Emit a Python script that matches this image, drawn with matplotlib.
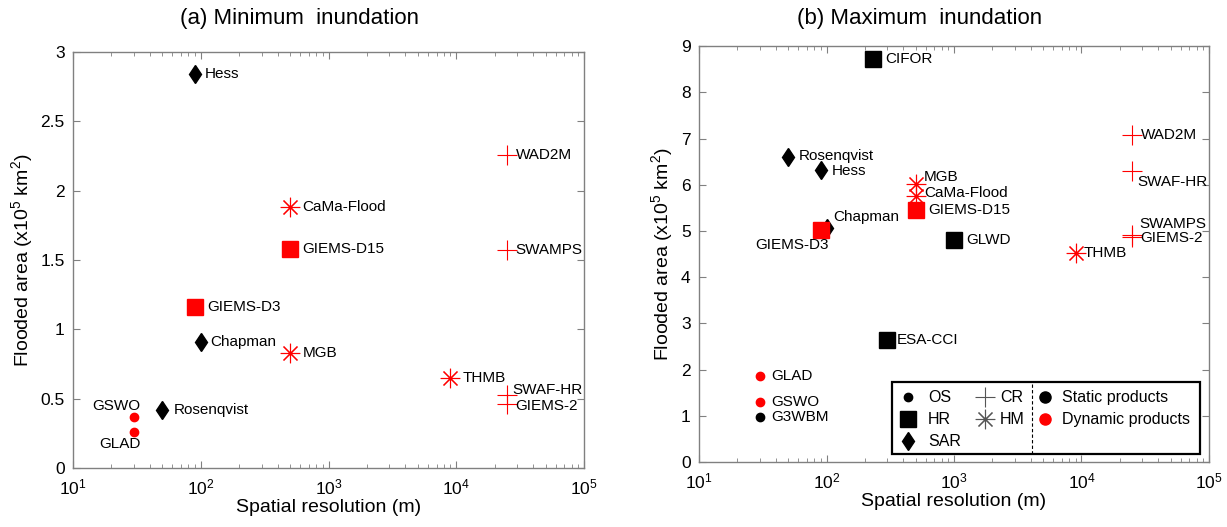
import matplotlib
matplotlib.use("Agg")
import matplotlib.pyplot as plt
from matplotlib.patches import Rectangle
from matplotlib.ticker import FormatStrFormatter, LogLocator, NullFormatter

plt.rcParams['font.family'] = ['Liberation Sans', 'DejaVu Sans']
plt.rcParams['mathtext.fontset'] = 'custom'
plt.rcParams['mathtext.rm'] = 'Liberation Sans'
plt.rcParams['mathtext.it'] = 'Liberation Sans'

# product type (sensor / model family) and whether it is dynamic
ptype = {
    'Hess': 'SAR', 'Chapman': 'SAR', 'Rosenqvist': 'SAR',
    'WAD2M': 'CR', 'SWAMPS': 'CR', 'SWAF-HR': 'CR', 'GIEMS-2': 'CR',
    'CaMa-Flood': 'HM', 'MGB': 'HM', 'THMB': 'HM',
    'GIEMS-D15': 'HR', 'GIEMS-D3': 'HR', 'CIFOR': 'HR', 'GLWD': 'HR', 'ESA-CCI': 'HR',
    'GSWO': 'OS', 'GLAD': 'OS', 'G3WBM': 'OS',
}
dynamic = ['WAD2M', 'SWAMPS', 'SWAF-HR', 'GIEMS-2', 'CaMa-Flood', 'MGB', 'THMB',
           'GIEMS-D15', 'GIEMS-D3', 'GSWO', 'GLAD']

# (a) minimum inundation
min_names = ['Hess', 'WAD2M', 'CaMa-Flood', 'GIEMS-D15', 'SWAMPS', 'GIEMS-D3', 'Chapman',
             'MGB', 'THMB', 'SWAF-HR', 'GIEMS-2', 'Rosenqvist', 'GSWO', 'GLAD']
min_res = [90, 25000, 500, 500, 25000, 90, 100, 500, 9000, 25000, 25000, 50, 30, 30]
min_area = [2.84, 2.26, 1.88, 1.58, 1.57, 1.16, 0.91, 0.83, 0.65, 0.53, 0.46, 0.42, 0.37, 0.26]

# (b) maximum inundation
max_names = ['CIFOR', 'WAD2M', 'Rosenqvist', 'Hess', 'SWAF-HR', 'MGB', 'CaMa-Flood',
             'GIEMS-D15', 'Chapman', 'GIEMS-D3', 'SWAMPS', 'GIEMS-2', 'GLWD', 'THMB',
             'ESA-CCI', 'GLAD', 'GSWO', 'G3WBM']
max_res = [230, 25000, 50, 90, 25000, 500, 500, 500, 100, 90, 25000, 25000, 1000, 9000,
           300, 30, 30, 30]
max_area = [8.72, 7.08, 6.60, 6.33, 6.30, 6.02, 5.76, 5.45, 5.07, 5.02, 4.92, 4.87, 4.80,
            4.52, 2.65, 1.87, 1.30, 0.98]

# marker styles
mstyle = {
    'OS': dict(marker='o', ms=6),
    'HR': dict(marker='s', ms=11),
    'SAR': dict(marker='d', ms=9.5),
    'CR': dict(marker='+', ms=15, mew=0.8),
    'HM': dict(marker=(8, 2, 0), ms=14, mew=0.8),
}

# label offsets in points (dx, dy, ha)
lab_a = {'GSWO': (-13, 8, 'center'), 'GLAD': (-10, -9, 'center'),
         'SWAF-HR': (4, 3, 'left'), 'GIEMS-2': (6, -1, 'left'),
         'WAD2M': (6, 0, 'left'), 'SWAMPS': (6, 0, 'left'),
         'Hess': (7, 0, 'left'), 'Chapman': (7, 0, 'left'), 'Rosenqvist': (8, 0, 'left')}
lab_b = {'SWAF-HR': (4, -8, 'left'), 'SWAMPS': (5, 8, 'left'), 'GIEMS-2': (6, -1, 'left'),
         'MGB': (6, 5, 'left'), 'CaMa-Flood': (6, 2, 'left'), 'Chapman': (5, 8, 'left'),
         'GIEMS-D3': (6, -11, 'right'), 'WAD2M': (6, 0, 'left'), 'THMB': (6, 0, 'left'),
         'Rosenqvist': (8, 1, 'left'), 'Hess': (8, -1, 'left'),
         'ESA-CCI': (7, 0, 'left'), 'GLAD': (8, 0, 'left'), 'GSWO': (8, 0, 'left'),
         'G3WBM': (8, 0, 'left')}

spine_col = '#808080'

fig = plt.figure(figsize=(12.27, 5.27), dpi=100)
ax1 = fig.add_axes([0.0595, 0.112, 0.4165, 0.789])
ax2 = fig.add_axes([0.5697, 0.1233, 0.4156, 0.789])


def draw(ax, names, xs, ys, offs, ymax, ystep):
    for n, x, y in zip(names, xs, ys):
        col = '#ff0000' if n in dynamic else 'black'
        st = mstyle[ptype[n]]
        ax.plot([x], [y], linestyle='none', color=col, mec=col, mfc=col, **st)
        dx, dy, ha = offs.get(n, (9, 0, 'left'))
        ax.annotate(n, (x, y), xytext=(dx, dy), textcoords='offset points',
                    ha=ha, va='center', fontsize=11)
    ax.set_xscale('log')
    ax.set_xlim(10, 1e5)
    ax.set_ylim(0, ymax)
    ax.set_yticks([i * ystep for i in range(int(ymax / ystep) + 1)])
    ax.yaxis.set_major_formatter(FormatStrFormatter('%g'))
    ax.xaxis.set_major_locator(LogLocator(base=10, numticks=10))
    ax.xaxis.set_minor_locator(LogLocator(base=10, subs=range(2, 10), numticks=10))
    ax.xaxis.set_minor_formatter(NullFormatter())
    for s in ax.spines.values():
        s.set_color(spine_col)
        s.set_linewidth(1.0)
    ax.tick_params(which='both', direction='in', top=True, right=True, colors=spine_col,
                   labelcolor='black', labelsize=12.5)
    ax.tick_params(which='major', length=5)
    ax.tick_params(which='minor', length=3)
    ax.tick_params(axis='x', pad=7)
    ax.tick_params(axis='y', pad=6)
    ax.set_xlabel('Spatial resolution (m)', fontsize=14, labelpad=1)
    ax.set_ylabel('Flooded area (x10$^5$ km$^2$)', fontsize=14, labelpad=4)


draw(ax1, min_names, min_res, min_area, lab_a, 3, 0.5)
draw(ax2, max_names, max_res, max_area, lab_b, 9, 1)
ax1.set_title('(a) Minimum  inundation', fontsize=16, pad=20, x=0.444)
ax2.set_title('(b) Maximum  inundation', fontsize=16, pad=16, x=0.433)

# legend box in panel (b)
T = ax2.transAxes
ax2.add_patch(Rectangle((0.378, 0.019), 0.982 - 0.378, 0.192 - 0.019, transform=T,
                        fill=True, facecolor='white', edgecolor='black', lw=1.6, zorder=5))
ax2.plot([0.653, 0.653], [0.019, 0.192], transform=T, color='black', lw=0.8,
         linestyle=(0, (3, 2)), zorder=6)
leg_rows = [0.156, 0.103, 0.050]
for t, yy in zip(['OS', 'HR', 'SAR'], leg_rows):
    ax2.plot([0.410], [yy], transform=T, linestyle='none', color='black', zorder=6,
             **mstyle[t])
    ax2.text(0.449, yy, t, transform=T, va='center', ha='left', fontsize=11.5, zorder=6)
for t, yy in zip(['CR', 'HM'], leg_rows[:2]):
    ax2.plot([0.561], [yy], transform=T, linestyle='none', color='#555555', zorder=6,
             **mstyle[t])
    ax2.text(0.590, yy, t, transform=T, va='center', ha='left', fontsize=11.5, zorder=6)
for t, c, yy in zip(['Static products', 'Dynamic products'], ['black', '#ff0000'],
                    leg_rows[:2]):
    ax2.plot([0.678], [yy], transform=T, linestyle='none', marker='o', ms=8,
             color=c, zorder=6)
    ax2.text(0.712, yy, t, transform=T, va='center', ha='left', fontsize=11.5, zorder=6)

fig.savefig('out.png', dpi=100)
